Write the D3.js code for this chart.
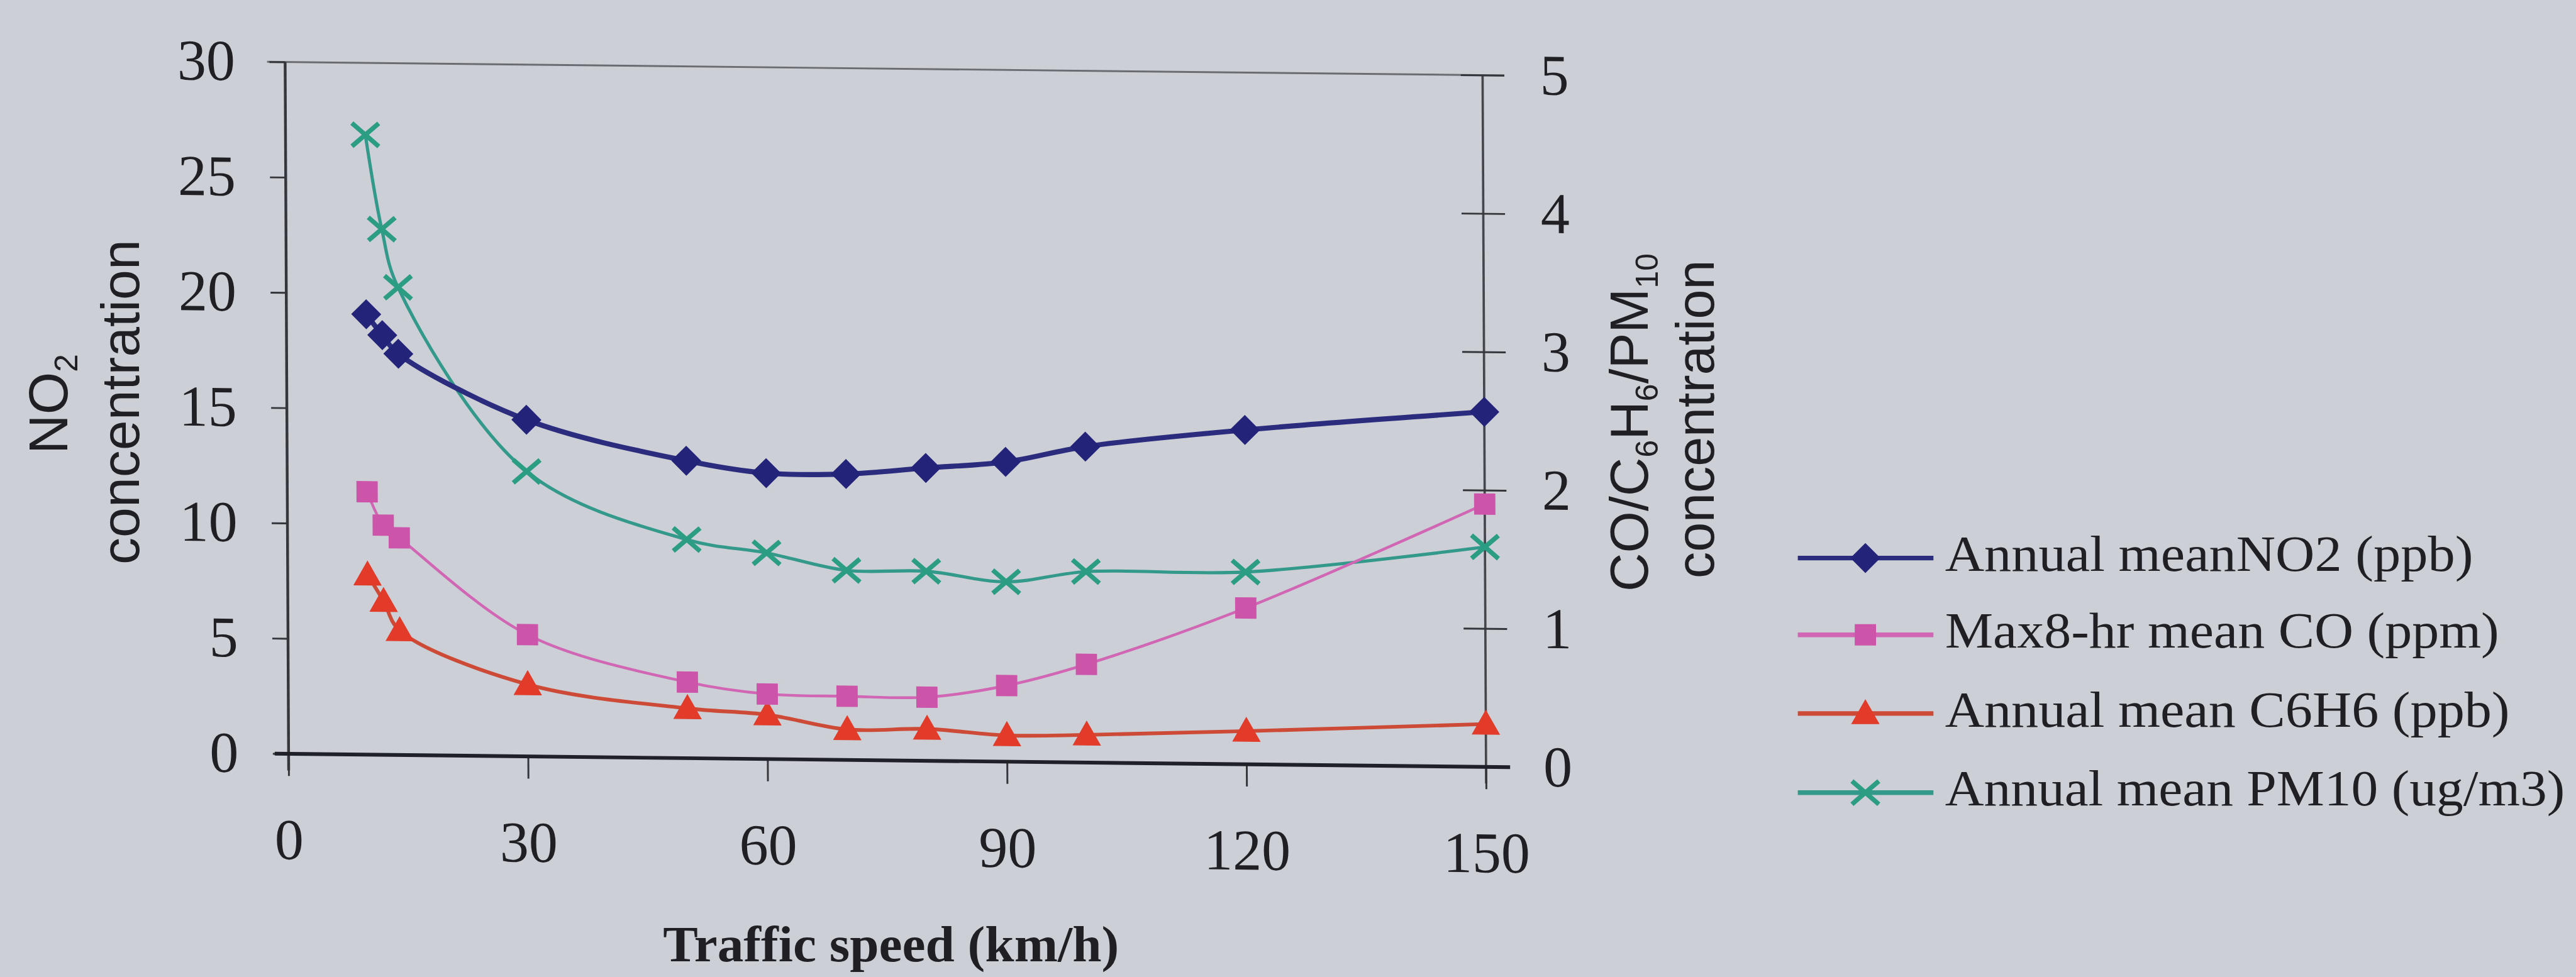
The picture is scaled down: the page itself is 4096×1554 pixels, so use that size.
<!DOCTYPE html>
<html>
<head>
<meta charset="utf-8">
<script src="https://cdn.jsdelivr.net/npm/d3@7"></script>
<style>
  html, body { margin: 0; padding: 0; background: #cccfd6; }
  svg { display: block; }
</style>
</head>
<body>
<svg id="chart" width="4096" height="1554"></svg>
<script>
// ---------------- data ----------------
const speeds = [10, 12, 14, 30, 50, 60, 70, 80, 90, 100, 120, 150];
const no2    = [19.1, 18.2, 17.4, 14.6, 12.9, 12.4, 12.4, 12.7, 13.0, 13.7, 14.5, 15.4];
const co     = [1.90, 1.66, 1.57, 0.88, 0.55, 0.47, 0.46, 0.46, 0.55, 0.71, 1.13, 1.90];
const c6h6   = [1.30, 1.11, 0.90, 0.52, 0.36, 0.32, 0.22, 0.23, 0.19, 0.20, 0.24, 0.31];
const pm10   = [4.48, 3.80, 3.38, 2.06, 1.58, 1.49, 1.37, 1.37, 1.30, 1.38, 1.39, 1.59];
const seriesNames = ["Annual meanNO2 (ppb)", "Max8-hr mean CO (ppm)", "Annual mean C6H6 (ppb)", "Annual mean PM10 (ug/m3)"];
const xTickValues = [0, 30, 60, 90, 120, 150];
const leftTickValues = [0, 5, 10, 15, 20, 25, 30];
const rightTickValues = [0, 1, 2, 3, 4, 5];
const xTitle = "Traffic speed (km/h)";

// ---------------- layout (reference pixel space) ----------------
const S = 0.736;
const svg = d3.select("#chart");
svg.append("rect").attr("width", 4096).attr("height", 1554).attr("fill", "#cccfd6");
const root = svg.append("g").attr("transform", `scale(${S})`);

const X0 = 616, X1 = 3203, YB = 1629, YT = 134;
const skA = 0.005, skB = 0.011;
const x = d3.scaleLinear().domain([0, 150]).range([X0, X1]);
const yL = d3.scaleLinear().domain([0, 30]).range([YB, YT]);
const yR = d3.scaleLinear().domain([0, 5]).range([YB, YT]);

const plot = root.append("g")
  .attr("transform", `matrix(1,${skB},${skA},1,${-skA * YT},${-skB * X0})`);

const serif = "'Liberation Serif','Times New Roman',serif";
const sans = "'Liberation Sans',Arial,sans-serif";
const ink = "#1f1f24";

// frame lines
plot.append("line").attr("x1", 577).attr("x2", 3250).attr("y1", YT).attr("y2", YT)
  .attr("stroke", "#6a6c72").attr("stroke-width", 4);
plot.append("line").attr("x1", X0).attr("x2", X0).attr("y1", YT).attr("y2", YB + 36)
  .attr("stroke", "#34363c").attr("stroke-width", 6);
plot.append("line").attr("x1", X1).attr("x2", X1).attr("y1", YT).attr("y2", YB + 36)
  .attr("stroke", "#44464c").attr("stroke-width", 5);

// axes
function styleAxis(g) {
  g.select(".domain").remove();
  g.attr("font-family", serif).attr("font-size", 125);
  g.selectAll("line").attr("stroke", "#34363c").attr("stroke-width", 4);
  g.selectAll("text").attr("fill", ink);
}
const fmt = d3.format("d");
const axL = plot.append("g").attr("transform", `translate(${X0},0)`)
  .call(d3.axisLeft(yL).tickValues(leftTickValues).tickFormat(fmt).tickSizeInner(34).tickSizeOuter(0).tickPadding(74));
styleAxis(axL);
const axR = plot.append("g").attr("transform", `translate(${X1},0)`)
  .call(d3.axisRight(yR).tickValues(rightTickValues).tickFormat(fmt).tickSizeInner(47).tickSizeOuter(0).tickPadding(77));
styleAxis(axR);
axR.selectAll(".tick line").attr("x1", -47);
const axB = plot.append("g").attr("transform", `translate(0,${YB})`)
  .call(d3.axisBottom(x).tickValues(xTickValues).tickFormat(fmt).tickSizeInner(48).tickSizeOuter(0).tickPadding(91));
styleAxis(axB);
plot.append("line").attr("x1", 586).attr("x2", 3255).attr("y1", YB).attr("y2", YB)
  .attr("stroke", "#202028").attr("stroke-width", 8);

// series
const markerPaths = {
  diamond: "M0,-31L31,0L0,31L-31,0Z",
  square: "M-22,-22h44v44h-44Z",
  triangle: "M0,-29L29,22L-29,22Z",
  cross: "M-29,-25L29,25M-29,25L29,-25"
};
const series = [
  { name: seriesNames[0], values: no2,  y: yL, line: "#2b2c7e", mark: "#23237a", lw: 11, shape: "diamond" },
  { name: seriesNames[1], values: co,   y: yR, line: "#d066b4", mark: "#cc55aa", lw: 6,  shape: "square" },
  { name: seriesNames[2], values: c6h6, y: yR, line: "#cc4a36", mark: "#e23b2a", lw: 8,  shape: "triangle" },
  { name: seriesNames[3], values: pm10, y: yR, line: "#33998a", mark: "#2a9d82", lw: 7,  shape: "cross" }
];
const lineGen = (ys) => d3.line().curve(d3.curveCatmullRom.alpha(0.5))
  .x(d => x(d[0])).y(d => ys(d[1]));

// draw order: PM10, C6H6, CO, NO2 on top
[3, 2, 1, 0].forEach(i => {
  const s = series[i];
  const pts = speeds.map((v, j) => [v, s.values[j]]);
  plot.append("path").datum(pts).attr("d", lineGen(s.y))
    .attr("fill", "none").attr("stroke", s.line).attr("stroke-width", s.lw)
    .attr("stroke-linejoin", "round");
  plot.append("g").selectAll("path").data(pts).join("path")
    .attr("transform", d => `translate(${x(d[0])},${s.y(d[1])})`)
    .attr("d", markerPaths[s.shape])
    .attr("fill", s.shape === "cross" ? "none" : s.mark)
    .attr("stroke", s.mark)
    .attr("stroke-width", s.shape === "cross" ? 10 : 2);
});

// axis titles
const tL = root.append("g").attr("font-family", sans).attr("fill", ink);
const t1 = tL.append("text").attr("transform", "translate(145,873) rotate(-90)")
  .attr("text-anchor", "middle").attr("font-size", 118);
t1.append("tspan").text("NO");
t1.append("tspan").attr("font-size", 70).attr("dy", 22).text("2");
tL.append("text").attr("transform", "translate(300,869) rotate(-90)")
  .attr("text-anchor", "middle").attr("font-size", 117)
  .attr("textLength", 702).attr("lengthAdjust", "spacingAndGlyphs").text("concentration");

const tR = root.append("g").attr("font-family", sans).attr("fill", ink);
const r1 = tR.append("text").attr("transform", "translate(3560,913) rotate(-90)")
  .attr("text-anchor", "middle").attr("font-size", 116);
r1.append("tspan").text("CO/C");
r1.append("tspan").attr("font-size", 68).attr("dy", 22).text("6");
r1.append("tspan").attr("dy", -22).text("H");
r1.append("tspan").attr("font-size", 68).attr("dy", 22).text("6");
r1.append("tspan").attr("dy", -22).text("/PM");
r1.append("tspan").attr("font-size", 68).attr("dy", 22).text("10");
tR.append("text").attr("transform", "translate(3702,906) rotate(-90)")
  .attr("text-anchor", "middle").attr("font-size", 116)
  .attr("textLength", 688).attr("lengthAdjust", "spacingAndGlyphs").text("concentration");

root.append("text").attr("x", 1925).attr("y", 2077).attr("text-anchor", "middle")
  .attr("font-family", serif).attr("font-weight", "bold").attr("font-size", 109)
  .attr("fill", ink).attr("textLength", 985).attr("lengthAdjust", "spacingAndGlyphs")
  .text(xTitle);

// legend
const legY = [1206, 1372, 1542, 1713];
const legLen = [1141, 1197, 1220, 1339];
const leg = root.append("g");
series.forEach((s, i) => {
  const g = leg.append("g").attr("transform", `translate(0,${legY[i]})`);
  g.append("line").attr("x1", 3884).attr("x2", 4177).attr("y1", 0).attr("y2", 0)
    .attr("stroke", s.line).attr("stroke-width", 10);
  g.append("path").attr("transform", "translate(4030,0)").attr("d", markerPaths[s.shape])
    .attr("fill", s.shape === "cross" ? "none" : s.mark).attr("stroke", s.mark)
    .attr("stroke-width", s.shape === "cross" ? 10 : 2);
  g.append("text").attr("x", 4202).attr("y", 28)
    .attr("font-family", serif).attr("font-size", 108).attr("fill", ink)
    .attr("textLength", legLen[i]).attr("lengthAdjust", "spacingAndGlyphs")
    .text(s.name);
});
</script>
</body>
</html>
